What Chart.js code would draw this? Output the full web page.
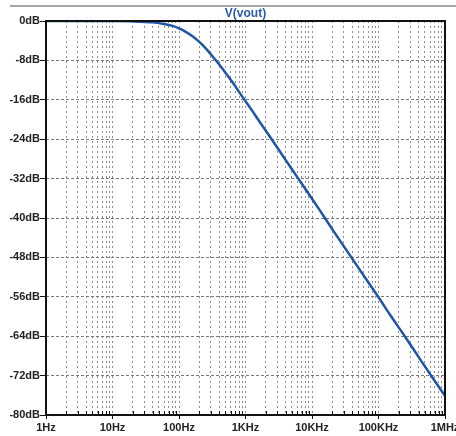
<!DOCTYPE html>
<html>
<head>
<meta charset="utf-8">
<script src="https://cdn.jsdelivr.net/npm/chart.js@4/dist/chart.umd.min.js"></script>
<style>
  html, body { margin: 0; padding: 0; background: #fff; }
  canvas { display: block; }
</style>
</head>
<body>
<canvas id="myChart" width="456" height="436"></canvas>
<script>
// Frequency response of V(vout)
const freqs = [1, 10, 20, 40, 60, 80, 100, 130, 160, 200, 250, 325, 400, 500, 650, 900,
  1200, 1600, 2000, 2530, 4000, 6160, 10000, 13200, 20000, 40000, 60000, 100000,
  150000, 251000, 400000, 590000, 1000000];
const gainDb = [0, 0, -0.07, -0.28, -0.6, -1.0, -1.5, -2.3, -3.1, -4.2, -5.5, -7.3, -8.8, -10.5, -12.6, -15.4,
  -17.8, -20.3, -22.2, -24.2, -28.2, -31.9, -36.1, -38.5, -42.2, -48.2, -51.7, -56.1,
  -59.7, -64.1, -68.2, -71.6, -76.1];

const decades = [1, 10, 100, 1000, 10000, 100000, 1000000];
const decadeLabels = ["1Hz", "10Hz", "100Hz", "1KHz", "10KHz", "100KHz", "1MHz"];
const dbTicks = [0, -8, -16, -24, -32, -40, -48, -56, -64, -72, -80];

const points = freqs.map((f, i) => ({ x: f, y: gainDb[i] }));

// minor ticks 2..9 in every decade
const minorFreqs = [];
decades.slice(0, -1).forEach((d) => {
  for (let m = 2; m <= 9; m++) minorFreqs.push(d * m);
});

const labelFont = { family: "Liberation Sans", size: 11, weight: "bold" };

const framePlugin = {
  id: "frame",
  beforeDraw(chart) {
    const c = chart.ctx;
    c.save();
    c.strokeStyle = "#8a8a8a";
    c.lineWidth = 1.5;
    c.beginPath();
    c.moveTo(10, 6);
    c.lineTo(chart.width, 6);
    c.stroke();
    c.restore();
  },
  afterDraw(chart) {
    const c = chart.ctx;
    const a = chart.chartArea;
    const xs = chart.scales.x;
    c.save();
    c.strokeStyle = "#111";
    c.lineWidth = 2;
    c.strokeRect(a.left, a.top, a.right - a.left, a.bottom - a.top);
    // small inward ticks on the frequency axis
    c.lineWidth = 1;
    c.beginPath();
    minorFreqs.forEach((f) => {
      const px = Math.round(xs.getPixelForValue(f)) + 0.5;
      c.moveTo(px, a.bottom);
      c.lineTo(px, a.bottom - 4);
    });
    c.stroke();
    // trace name
    c.fillStyle = "#2a5cab";
    c.font = "bold 12px 'Liberation Sans'";
    c.textAlign = "center";
    c.textBaseline = "middle";
    c.fillText("V(vout)", (a.left + a.right) / 2, 14);
    c.restore();
  }
};

const config = {
  type: "scatter",
  data: {
    datasets: [
      {
        label: "V(vout)",
        data: points,
        showLine: true,
        borderColor: "#1f55a5",
        borderWidth: 2.5,
        pointRadius: 0,
        cubicInterpolationMode: "monotone"
      }
    ]
  },
  options: {
    responsive: false,
    animation: false,
    layout: { padding: { top: 21, right: 11, left: 0, bottom: 0 } },
    plugins: { legend: { display: false }, tooltip: { enabled: false } },
    scales: {
      x: {
        type: "logarithmic",
        min: 1,
        max: 1000000,
        afterBuildTicks: (scale) => {
          scale.ticks = decades.concat(minorFreqs).sort((a, b) => a - b).map((v) => ({ value: v }));
        },
        afterFit: (scale) => {
          scale.height = 21;
          scale.paddingLeft = 0;
          scale.paddingRight = 0;
        },
        ticks: {
          autoSkip: false,
          maxRotation: 0,
          padding: 2,
          color: "#222",
          font: labelFont,
          callback: (v) => {
            const i = decades.indexOf(v);
            return i >= 0 ? decadeLabels[i] : "";
          }
        },
        grid: {
          color: "#8c8c8c",
          lineWidth: 1,
          tickLength: 4,
          tickColor: (ctx) => (decades.includes(ctx.tick && ctx.tick.value) ? "#111" : "transparent")
        },
        border: { display: false, dash: [2, 3] }
      },
      y: {
        min: -80,
        max: 0,
        afterBuildTicks: (scale) => {
          scale.ticks = dbTicks.map((v) => ({ value: v }));
        },
        afterFit: (scale) => {
          scale.width = 46;
        },
        ticks: {
          padding: 0,
          color: "#222",
          font: labelFont,
          callback: (v) => v + "dB"
        },
        grid: {
          color: "#7a7a7a",
          lineWidth: 1,
          tickLength: 6,
          tickColor: "#111"
        },
        border: { display: false, dash: [3, 2] }
      }
    }
  },
  plugins: [framePlugin]
};

const ctx = document.getElementById("myChart");
const myChart = new Chart(ctx, config);
</script>
</body>
</html>
